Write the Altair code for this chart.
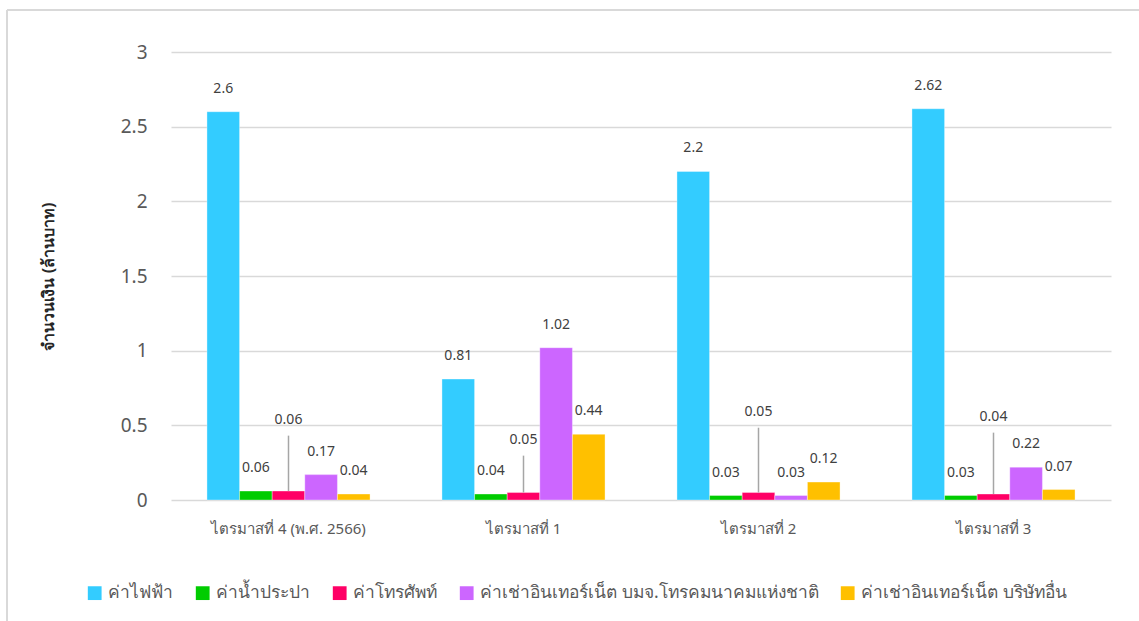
import altair as alt
import pandas as pd

quarters = ["ไตรมาสที่ 4 (พ.ศ. 2566)", "ไตรมาสที่ 1", "ไตรมาสที่ 2", "ไตรมาสที่ 3"]
series = [
    "ค่าไฟฟ้า",
    "ค่าน้ำประปา",
    "ค่าโทรศัพท์",
    "ค่าเช่าอินเทอร์เน็ต บมจ.โทรคมนาคมแห่งชาติ",
    "ค่าเช่าอินเทอร์เน็ต บริษัทอื่น",
]
electricity = [2.6, 0.81, 2.2, 2.62]
water = [0.06, 0.04, 0.03, 0.03]
phone = [0.06, 0.05, 0.05, 0.04]
internet_nt = [0.17, 1.02, 0.03, 0.22]
internet_other = [0.04, 0.44, 0.12, 0.07]
# heights (in data units) where the telephone labels are placed as callouts
phone_callout = [0.536, 0.402, 0.589, 0.556]
colors = ["#33CCFF", "#00CC00", "#FF0066", "#CC66FF", "#FFC000"]
y_ticks = [0, 0.5, 1, 1.5, 2, 2.5, 3]

FONT = "Noto Sans"

rows = []
for s, vals in zip(series, [electricity, water, phone, internet_nt, internet_other]):
    for i, (q, v) in enumerate(zip(quarters, vals)):
        rows.append({
            "quarter": q,
            "series": s,
            "value": v,
            "label": f"{v:g}",
            "callout": phone_callout[i] if s == series[2] else None,
        })
df = pd.DataFrame(rows)

PLOT_W, PLOT_H = 940, 448
LEFT, TOP = 171, 52

x_enc = alt.X(
    "quarter:N",
    sort=quarters,
    scale=alt.Scale(domain=quarters, paddingInner=0.306, paddingOuter=0.153),
    axis=alt.Axis(
        title=None, domain=False, ticks=False, labelAngle=0,
        labelFont=FONT, labelFontSize=15, labelColor="#595959", labelPadding=21,
    ),
)
xoff_enc = alt.XOffset(
    "series:N", sort=series,
    scale=alt.Scale(domain=series, paddingInner=0, paddingOuter=0),
)
y_scale = alt.Scale(domain=[0, 3], nice=False, zero=True)

base = alt.Chart(df).encode(x=x_enc, xOffset=xoff_enc)

bars = base.mark_bar(stroke="white", strokeOpacity=0.35, strokeWidth=1).encode(
    y=alt.Y(
        "value:Q",
        scale=y_scale,
        axis=alt.Axis(
            values=y_ticks, format="~g", title="จำนวนเงิน (ล้านบาท)", domain=False, ticks=False,
            grid=True, gridColor="#D9D9D9", gridWidth=1.5,
            labelFont=FONT, labelFontSize=19, labelColor="#595959", labelPadding=24,
            titleFont=FONT, titleFontSize=16, titleFontWeight="bold", titleColor="#262626",
            titlePadding=64,
        ),
    ),
    color=alt.Color(
        "series:N",
        sort=series,
        scale=alt.Scale(domain=series, range=colors),
        legend=alt.Legend(
            title=None, orient="none", direction="horizontal",
            legendX=-85, legendY=532,
            symbolType="square", symbolSize=190, symbolStrokeWidth=0,
            labelFont=FONT, labelFontSize=17.4, labelColor="#595959",
            labelOffset=5, columnPadding=20, labelLimit=500,
        ),
    ),
)

labels = base.transform_filter(
    alt.datum.series != series[2]
).mark_text(
    baseline="alphabetic", dy=-19, font=FONT, fontSize=14, color="#404040"
).encode(
    y=alt.Y("value:Q", scale=y_scale),
    text="label:N",
)

phone_base = base.transform_filter(alt.datum.series == series[2]).transform_calculate(
    line_top="datum.callout - 0.105"
)
leaders = phone_base.mark_rule(color="#A6A6A6", strokeWidth=1.5).encode(
    y=alt.Y("value:Q", scale=y_scale),
    y2="line_top:Q",
)
phone_labels = phone_base.mark_text(
    baseline="middle", font=FONT, fontSize=14, color="#404040"
).encode(
    y=alt.Y("callout:Q", scale=y_scale),
    text="label:N",
)

border_top = alt.Chart(df).mark_rule(color="#D9D9D9", strokeWidth=2).encode(
    x=alt.value(7 - LEFT), x2=alt.value(1139 - LEFT), y=alt.value(10 - TOP)
)
border_left = alt.Chart(df).mark_rule(color="#D9D9D9", strokeWidth=2).encode(
    x=alt.value(7 - LEFT), y=alt.value(10 - TOP), y2=alt.value(621 - TOP)
)

chart = alt.layer(bars, labels, leaders, phone_labels, border_top, border_left).properties(
    width=PLOT_W,
    height=PLOT_H,
    autosize=alt.AutoSizeParams(type="none"),
    padding={"left": LEFT, "top": TOP, "right": 1139 - LEFT - PLOT_W, "bottom": 621 - TOP - PLOT_H},
    background="white",
).configure_view(stroke=None)

chart.save("out.html", embed_options={"renderer": "svg", "actions": False})
